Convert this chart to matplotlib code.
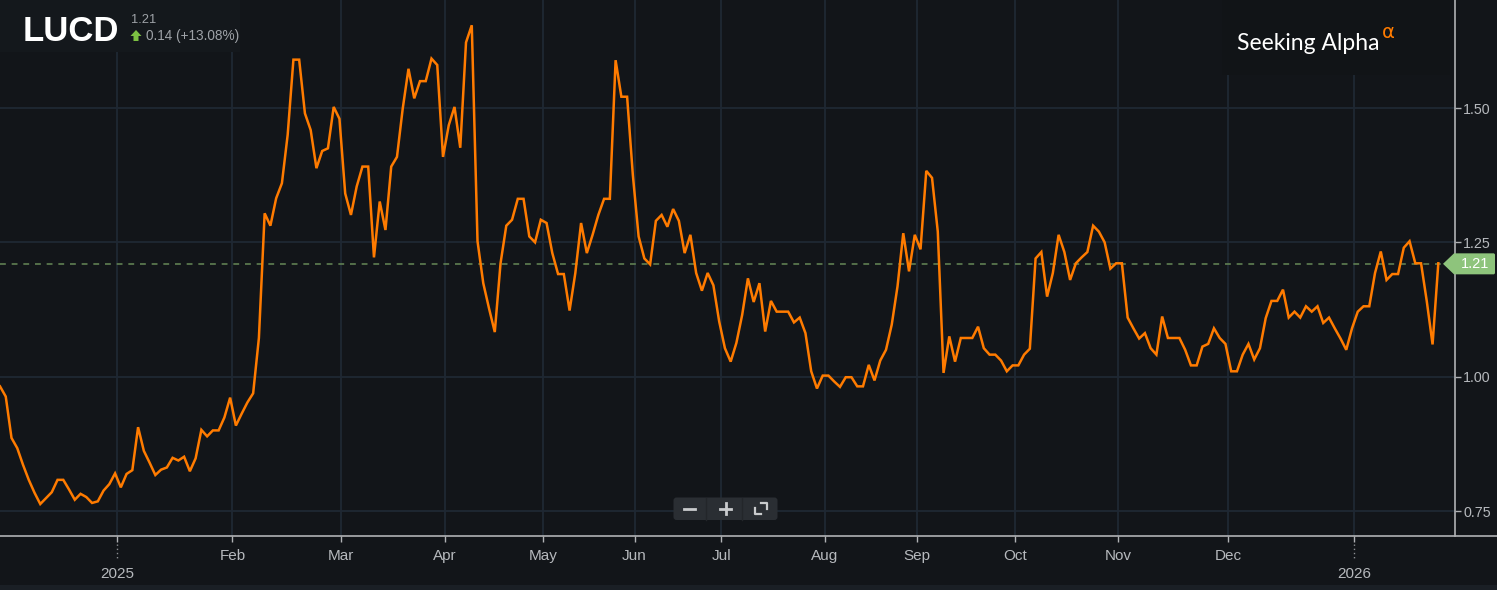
import matplotlib
matplotlib.use("Agg")
import matplotlib.pyplot as plt
import matplotlib.transforms as mtransforms
from matplotlib.patches import Polygon, FancyBboxPatch, Rectangle
from matplotlib.lines import Line2D

# ---------------- data ----------------
ticker = "LUCD"
last_price = 1.21
last_price_text = "1.21"
change_text = "0.14 (+13.08%)"

prices = [
    0.982, 0.963, 0.886, 0.867, 0.836, 0.808, 0.784, 0.763, 0.774, 0.785,
    0.808, 0.808, 0.790, 0.771, 0.782, 0.776, 0.765, 0.768, 0.788, 0.800,
    0.820, 0.794, 0.819, 0.826, 0.906, 0.862, 0.840, 0.817, 0.827, 0.831,
    0.849, 0.844, 0.851, 0.824, 0.848, 0.901, 0.889, 0.900, 0.900, 0.924,
    0.961, 0.909, 0.931, 0.952,
    0.969, 1.072, 1.304, 1.281, 1.332, 1.360, 1.450, 1.590, 1.590, 1.490,
    1.459, 1.388, 1.420, 1.425, 1.502, 1.480, 1.341, 1.301, 1.354, 1.391,
    1.391, 1.222, 1.326, 1.273, 1.391, 1.409, 1.499, 1.573, 1.518, 1.550,
    1.550, 1.592, 1.580, 1.409, 1.468, 1.502, 1.426, 1.622, 1.654, 1.252,
    1.174, 1.127, 1.083,
    1.211, 1.281, 1.292, 1.331, 1.331, 1.261, 1.250, 1.292, 1.286, 1.230,
    1.191, 1.191, 1.123, 1.193, 1.286, 1.230, 1.264, 1.301, 1.331, 1.331,
    1.589, 1.521, 1.521, 1.375, 1.261, 1.220, 1.209, 1.290, 1.301, 1.279,
    1.312, 1.290, 1.230, 1.264, 1.193, 1.160, 1.193, 1.170, 1.103, 1.053,
    1.028, 1.063,
    1.115, 1.183, 1.139, 1.174, 1.084, 1.141, 1.121, 1.121, 1.121, 1.101,
    1.110, 1.081, 1.010, 0.978, 1.002, 1.002, 0.991, 0.981, 0.999, 0.999,
    0.982, 0.982, 1.022, 0.993, 1.030, 1.050, 1.097, 1.168, 1.267, 1.196,
    1.264, 1.237, 1.383, 1.370, 1.270, 1.007, 1.075, 1.028, 1.072, 1.072,
    1.072, 1.093, 1.053,
    1.041, 1.041, 1.030, 1.010, 1.021, 1.021, 1.041, 1.052, 1.220, 1.232,
    1.149, 1.193, 1.264, 1.232, 1.180, 1.211, 1.222, 1.232, 1.281, 1.270,
    1.250, 1.201, 1.211, 1.211, 1.110, 1.090, 1.071, 1.081, 1.053, 1.041,
    1.112, 1.072, 1.072, 1.072, 1.050, 1.021, 1.021, 1.056, 1.061, 1.090,
    1.072, 1.061,
    1.010, 1.010, 1.041, 1.061, 1.032, 1.053, 1.109, 1.141, 1.141, 1.162,
    1.110, 1.121, 1.110, 1.131, 1.121, 1.131, 1.100, 1.110, 1.090, 1.071,
    1.050, 1.090, 1.121, 1.131, 1.131, 1.193, 1.233, 1.180, 1.191, 1.191,
    1.240, 1.252, 1.211, 1.211, 1.140, 1.060, 1.211,
]

month_tick_idx = [20.4, 40.4, 59.3, 77.35, 94.45, 110.3, 125.35, 143.4,
                  159.45, 176.4, 194.4, 213.5, 235.4]
month_labels = ["", "Feb", "Mar", "Apr", "May", "Jun", "Jul", "Aug",
                "Sep", "Oct", "Nov", "Dec", ""]
year_labels = ["2025", "", "", "", "", "", "", "", "", "", "", "", "2026"]
y_ticks = [0.75, 1.00, 1.25, 1.50]
y_tick_labels = ["0.75", "1.00", "1.25", "1.50"]

# ---------------- style ----------------
W, H = 1497, 590
BG = "#121519"
GRID = "#1f2833"
AXIS = "#b0b2b5"
LABEL = "#b6b9bd"
ORANGE = "#ff7b00"
FONT = "Liberation Sans"

fig = plt.figure(figsize=(W / 100, H / 100), dpi=100)
fig.patch.set_facecolor(BG)

# pixel (y down) -> figure transform
pxT = mtransforms.Affine2D().scale(1.0 / W, -1.0 / H).translate(0, 1) + fig.transFigure

ax = fig.add_axes([0, 1 - 536 / H, 1455 / W, 536 / H])
ax.set_facecolor(BG)

x = list(range(len(prices)))
ax.plot(x, prices, color=ORANGE, lw=1.8, solid_joinstyle="miter", zorder=4)
ax.set_xlim(0, 252.9)
ax.set_ylim(0.7035, 1.701)

ax.set_xticks(month_tick_idx)
ax.set_yticks(y_ticks)
ax.set_yticklabels(y_tick_labels)
ax.grid(True, color=GRID, lw=1.3, zorder=0)
ax.set_axisbelow(True)
ax.yaxis.tick_right()
ax.tick_params(axis="y", colors=AXIS, labelcolor=LABEL, length=4, width=1,
               pad=2, labelsize=10.3)
ax.tick_params(axis="x", colors=AXIS, length=4.5, width=1, labelbottom=False)
for lab in ax.get_yticklabels():
    lab.set_fontfamily(FONT)

for s in ["top", "left", "bottom"]:
    ax.spines[s].set_visible(False)
ax.spines["right"].set_color(AXIS)
ax.spines["right"].set_linewidth(1.2)

# bottom axis line spanning the whole width
fig.add_artist(Line2D([0, W], [536, 536], transform=pxT, color=AXIS, lw=1.2))
# bottom strip
fig.add_artist(Rectangle((0, 585), W, 5, transform=pxT, color="#1a1f25", lw=0))

# month / year labels
bx = mtransforms.blended_transform_factory(ax.transData, pxT)
for xi, ml, yl in zip(month_tick_idx, month_labels, year_labels):
    if ml:
        ax.text(xi, 560, ml, transform=bx, ha="center", va="baseline",
                fontsize=11, color=LABEL, family=FONT, clip_on=False)
    if yl:
        ax.text(xi, 577.5, yl, transform=bx, ha="center", va="baseline",
                fontsize=11, color=LABEL, family=FONT, clip_on=False)
        ax.add_line(Line2D([xi, xi], [544, 559], transform=bx, color="#8a8d91",
                           lw=1, ls=(0, (1, 2)), clip_on=False))

# last price dashed line
ax.axhline(last_price, color="#5f7f52", lw=1.2, ls=(0, (3.5, 3.5)), zorder=3)

# last price tag
by = mtransforms.blended_transform_factory(pxT, ax.transData)
h = 10.5 / 537.3
tag = Polygon([(1443, last_price), (1454, last_price + h), (1494, last_price + h),
               (1495, last_price + h - 0.002), (1495, last_price - h + 0.002),
               (1494, last_price - h), (1454, last_price - h)],
              closed=True, transform=by, facecolor="#8ec47c", edgecolor="none",
              clip_on=False, zorder=6)
fig.add_artist(tag)
fig.text(1475, last_price, last_price_text, transform=by, ha="center", va="center",
         fontsize=10.5, color="white", family=FONT, zorder=7)

# header box (hides gridlines)
fig.add_artist(Rectangle((0, 0), 240, 52, transform=pxT, color="#14181c", lw=0, zorder=2))
fig.add_artist(Rectangle((1222, 0), 228, 75, transform=pxT, color="#111417", lw=0, zorder=2))

fig.text(23 / W, 1 - 41 / H, ticker, fontsize=25, fontweight="bold", color="white",
         family=FONT, va="baseline", ha="left", zorder=5)
fig.text(131 / W, 1 - 23 / H, last_price_text, fontsize=9.3, color="#9ea2a7",
         family=FONT, va="baseline", ha="left", zorder=5)
fig.text(146 / W, 1 - 40 / H, change_text, fontsize=9.8, color="#9ea2a7",
         family=FONT, va="baseline", ha="left", zorder=5)
arrow = Polygon([(136, 30), (141.5, 36), (138.5, 36), (138.5, 41), (133.5, 41),
                 (133.5, 36), (130.5, 36)], closed=True, transform=pxT,
                facecolor="#7cc142", edgecolor="none", zorder=5)
fig.add_artist(arrow)

# Seeking Alpha logo (fit to target width of ~143 px)
sa = fig.text(1237 / W, 1 - 50 / H, "Seeking Alpha", fontsize=16, color="white",
              family="Lato", va="baseline", ha="left", zorder=5)
renderer = fig.canvas.get_renderer()
wpx = sa.get_window_extent(renderer).width
sa.set_fontsize(16 * 143.0 / wpx)
fig.text((1237 + 143 + 2) / W, 1 - 38 / H, "α", fontsize=14, color=ORANGE,
         family="DejaVu Sans", va="baseline", ha="left", zorder=5)

# zoom controls
box = FancyBboxPatch((673.5, 497.5), 104, 22.5, boxstyle="round,pad=0,rounding_size=3",
                     transform=pxT, facecolor="#2a2e33", edgecolor="none", zorder=5)
fig.add_artist(box)
for sx in (706, 742):
    fig.add_artist(Line2D([sx, sx], [498, 519.5], transform=pxT, color="#23262a",
                          lw=1, zorder=6))
fig.add_artist(Line2D([684, 695], [508.5, 508.5], transform=pxT, color="#c9cbcd",
                      lw=2, zorder=6))
fig.add_artist(Line2D([720, 731], [508.5, 508.5], transform=pxT, color="#c9cbcd",
                      lw=2, zorder=6))
fig.add_artist(Line2D([725.5, 725.5], [503, 514], transform=pxT, color="#c9cbcd",
                      lw=2, zorder=6))
fig.add_artist(Line2D([761, 767, 767], [503, 503, 509], transform=pxT, color="#c9cbcd",
                      lw=1.6, zorder=6))
fig.add_artist(Line2D([755, 755, 761], [508, 514, 514], transform=pxT, color="#c9cbcd",
                      lw=1.6, zorder=6))

fig.savefig("out.png", dpi=100, facecolor=BG)
